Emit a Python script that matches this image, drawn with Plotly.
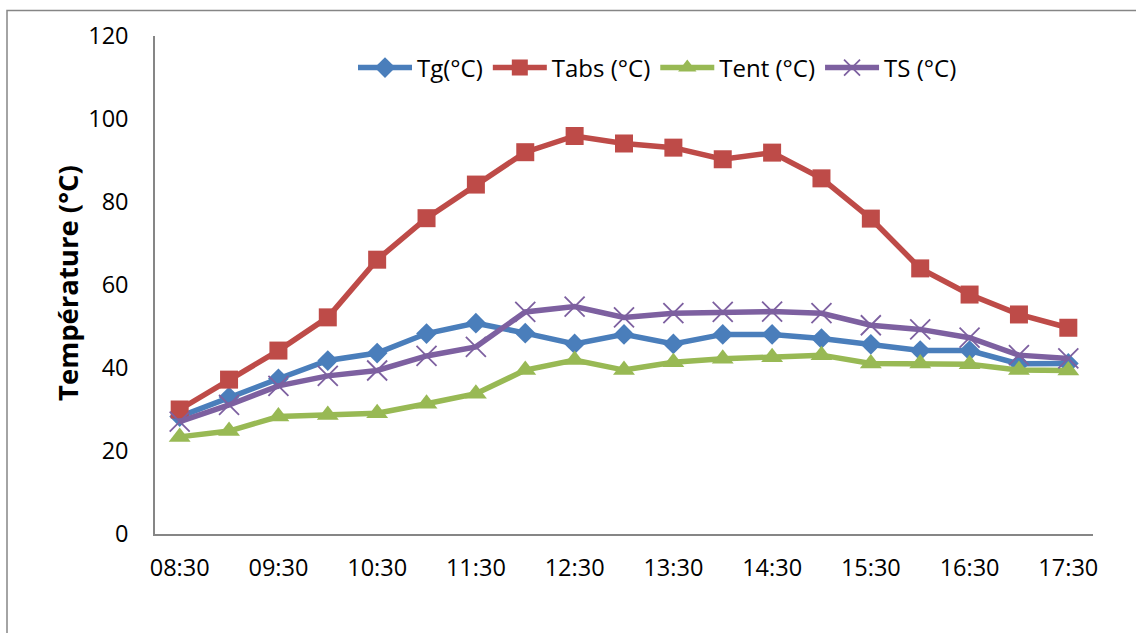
import plotly.graph_objects as go

times = ["08:30", "09:00", "09:30", "10:00", "10:30", "11:00", "11:30", "12:00", "12:30", "13:00",
         "13:30", "14:00", "14:30", "15:00", "15:30", "16:00", "16:30", "17:00", "17:30"]
tick_labels = ["08:30", "09:30", "10:30", "11:30", "12:30", "13:30", "14:30", "15:30", "16:30", "17:30"]

tg = [28.3, 33.0, 37.4, 41.8, 43.6, 48.3, 50.8, 48.4, 45.8, 48.1, 45.8, 48.1, 48.1, 47.1, 45.7, 44.2, 44.2, 41.0, 41.1]
tabs = [30.0, 37.2, 44.2, 52.2, 66.1, 76.1, 84.2, 92.0, 95.9, 94.1, 93.1, 90.3, 91.9, 85.7, 76.0, 64.0, 57.7, 52.9, 49.7]
tent = [23.4, 24.8, 28.3, 28.7, 29.1, 31.4, 33.8, 39.5, 41.9, 39.5, 41.4, 42.2, 42.6, 43.1, 41.1, 41.1, 40.9, 39.5, 39.4]
ts = [27.1, 31.1, 35.7, 38.1, 39.4, 42.9, 45.1, 53.5, 54.8, 52.2, 53.2, 53.5, 53.6, 53.2, 50.3, 49.3, 47.3, 43.1, 42.3]

FONT = "Open Sans"

fig = go.Figure()
fig.add_trace(go.Scatter(x=times, y=tg, name="Tg(°C)", mode="lines+markers",
                         line=dict(color="#4A7EBB", width=5.5),
                         marker=dict(symbol="diamond", size=16, color="#4A7EBB")))
fig.add_trace(go.Scatter(x=times, y=tabs, name="Tabs (°C)", mode="lines+markers",
                         line=dict(color="#BE4B48", width=5.5),
                         marker=dict(symbol="square", size=18, color="#BE4B48")))
fig.add_trace(go.Scatter(x=times, y=tent, name="Tent (°C)", mode="lines+markers",
                         line=dict(color="#98B954", width=5.5),
                         marker=dict(symbol="triangle-up", size=19, color="#98B954")))
fig.add_trace(go.Scatter(x=times, y=ts, name="TS (°C)", mode="lines+markers",
                         line=dict(color="#7D60A0", width=5.5),
                         marker=dict(symbol="x-thin-open", size=20, color="#7D60A0",
                                     line=dict(color="#7D60A0", width=1.8))))

L, R, T, B = 155, 43, 36, 99
W, H = 1136, 633
pw, ph = W - L - R, H - T - B

fig.update_layout(
    width=W, height=H,
    margin=dict(l=L, r=R, t=T, b=B),
    paper_bgcolor="white", plot_bgcolor="white",
    font=dict(family=FONT, size=23, color="black"),
    showlegend=True,
    legend=dict(orientation="h", x=(353 - L) / pw, xanchor="left",
                y=1 - (68 - T) / ph, yanchor="middle",
                bgcolor="rgba(0,0,0,0)", font=dict(size=24, family=FONT),
                itemwidth=54, traceorder="normal"),
    xaxis=dict(type="category", categoryorder="array", categoryarray=times,
               range=[-0.5, len(times) - 0.5],
               tickmode="array", tickvals=tick_labels, ticktext=tick_labels,
               showgrid=False, zeroline=False, showline=True,
               linecolor="#868686", linewidth=1.5, ticks="",
               tickfont=dict(size=23.5, family=FONT), ticklabelstandoff=12),
    yaxis=dict(range=[0, 120], tickvals=[0, 20, 40, 60, 80, 100, 120],
               showgrid=False, zeroline=False, showline=True,
               linecolor="#868686", linewidth=1.5, ticks="",
               tickfont=dict(size=23.5, family=FONT), ticklabelstandoff=20),
    annotations=[dict(text="<b>Température (°C)</b>", textangle=-90,
                      xref="paper", yref="paper",
                      x=(67 - L) / pw, y=1 - (283 - T) / ph,
                      xanchor="center", yanchor="middle", showarrow=False,
                      font=dict(size=27.5, family=FONT, color="black"))],
    shapes=[dict(type="rect", xref="paper", yref="paper",
                 x0=(7 - L) / pw, x1=(1145 - L) / pw,
                 y0=-0.3, y1=1 + (T - 10.5) / ph,
                 line=dict(color="#868686", width=1.5), layer="below")],
)

fig.write_html("out.html")
